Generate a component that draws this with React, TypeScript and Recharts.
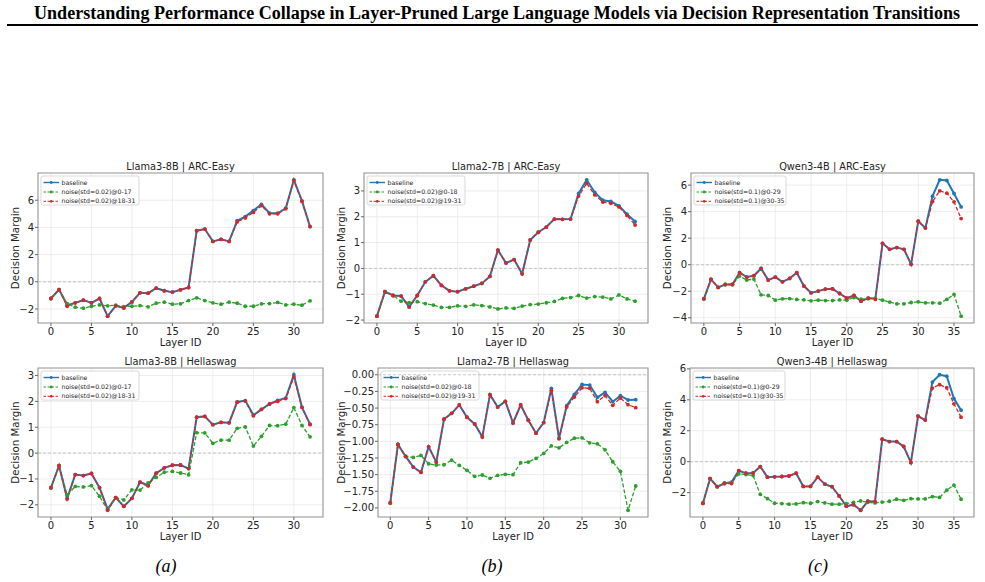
import React from 'react';
import {
  LineChart,
  Line,
  XAxis,
  YAxis,
  CartesianGrid,
  ReferenceLine,
  ReferenceArea,
  Customized,
} from 'recharts';

// ---------- categories ----------
const layers32 = [0, 1, 2, 3, 4, 5, 6, 7, 8, 9, 10, 11, 12, 13, 14, 15, 16, 17, 18, 19, 20, 21, 22, 23, 24, 25, 26, 27, 28, 29, 30, 31, 32];
const layers36 = [0, 1, 2, 3, 4, 5, 6, 7, 8, 9, 10, 11, 12, 13, 14, 15, 16, 17, 18, 19, 20, 21, 22, 23, 24, 25, 26, 27, 28, 29, 30, 31, 32, 33, 34, 35, 36];

// ---------- tick labels ----------
const xTicks32 = [0, 5, 10, 15, 20, 25, 30];
const xTicks36 = [0, 5, 10, 15, 20, 25, 30, 35];
const yTicksL3Arc = [-2, 0, 2, 4, 6];
const yTicksL2Arc = [-2, -1, 0, 1, 2, 3];
const yTicksQwArc = [-4, -2, 0, 2, 4, 6];
const yTicksL3Hs = [-2, -1, 0, 1, 2, 3];
const yTicksL2Hs = [-2.0, -1.75, -1.5, -1.25, -1.0, -0.75, -0.5, -0.25, 0.0];
const yTicksQwHs = [-2, 0, 2, 4, 6];

// ---------- series: Llama3-8B | ARC-Easy ----------
const l3ArcBase = [-1.23, -0.57, -1.72, -1.55, -1.35, -1.55, -1.23, -2.53, -1.77, -1.92, -1.48, -0.81, -0.84, -0.47, -0.66, -0.76, -0.59, -0.42, 3.76, 3.88, 2.97, 3.12, 2.97, 4.5, 4.8, 5.24, 5.7, 5.04, 5.04, 5.41, 7.5, 5.95, 4.06];
const l3ArcLow = [-1.23, -0.57, -1.6, -1.87, -1.94, -1.8, -1.7, -1.77, -1.72, -1.82, -1.8, -1.75, -1.84, -1.57, -1.5, -1.65, -1.62, -1.38, -1.18, -1.38, -1.55, -1.65, -1.5, -1.57, -1.8, -1.8, -1.62, -1.6, -1.52, -1.7, -1.65, -1.72, -1.4];
const l3ArcHigh = [-1.23, -0.57, -1.8, -1.55, -1.35, -1.55, -1.23, -2.53, -1.77, -1.92, -1.48, -0.81, -0.84, -0.47, -0.66, -0.76, -0.59, -0.42, 3.76, 3.88, 2.97, 3.12, 2.97, 4.4, 4.7, 5.1, 5.6, 5.0, 5.0, 5.38, 7.45, 5.92, 4.06];

// ---------- series: Llama2-7B | ARC-Easy ----------
const l2ArcBase = [-1.85, -0.9, -1.05, -1.07, -1.49, -1.05, -0.52, -0.28, -0.66, -0.87, -0.9, -0.79, -0.69, -0.58, -0.31, 0.71, 0.21, 0.34, -0.21, 1.1, 1.4, 1.6, 1.91, 1.9, 1.91, 2.9, 3.43, 2.94, 2.64, 2.59, 2.42, 2.1, 1.82];
const l2ArcLow = [-1.85, -0.9, -1.05, -1.27, -1.33, -1.29, -1.36, -1.42, -1.51, -1.51, -1.45, -1.47, -1.41, -1.44, -1.49, -1.57, -1.53, -1.55, -1.46, -1.4, -1.38, -1.33, -1.28, -1.16, -1.13, -1.05, -1.15, -1.09, -1.11, -1.18, -1.03, -1.18, -1.27];
const l2ArcHigh = [-1.85, -0.9, -1.05, -1.07, -1.49, -1.05, -0.52, -0.28, -0.66, -0.87, -0.9, -0.79, -0.69, -0.58, -0.31, 0.71, 0.21, 0.34, -0.21, 1.1, 1.4, 1.6, 1.91, 1.9, 1.91, 2.8, 3.29, 2.85, 2.57, 2.52, 2.38, 2.05, 1.68];

// ---------- series: Qwen3-4B | ARC-Easy ----------
const qwArcBase = [-2.57, -1.11, -1.71, -1.49, -1.49, -0.6, -0.93, -0.83, -0.28, -1.16, -0.93, -1.29, -1.03, -0.6, -1.61, -2.12, -1.99, -1.84, -1.82, -2.17, -2.52, -2.32, -2.75, -2.52, -2.55, 1.61, 1.16, 1.29, 1.16, 0.03, 3.28, 2.77, 5.17, 6.4, 6.35, 5.37, 4.36];
const qwArcLow = [-2.57, -1.11, -1.71, -1.49, -1.49, -0.86, -1.16, -1.08, -2.27, -2.32, -2.67, -2.57, -2.55, -2.62, -2.65, -2.72, -2.67, -2.7, -2.7, -2.65, -2.67, -2.47, -2.6, -2.57, -2.52, -2.67, -2.82, -2.95, -2.95, -2.85, -2.8, -2.87, -2.87, -2.9, -2.62, -2.24, -3.88];
const qwArcHigh = [-2.57, -1.11, -1.71, -1.49, -1.49, -0.6, -0.93, -0.83, -0.28, -1.16, -0.93, -1.29, -1.03, -0.6, -1.61, -2.12, -1.99, -1.84, -1.82, -2.17, -2.52, -2.32, -2.75, -2.52, -2.62, 1.61, 1.16, 1.29, 1.16, 0.03, 3.28, 2.77, 4.76, 5.57, 5.39, 4.74, 3.48];

// ---------- series: Llama3-8B | Hellaswag ----------
const l3HsBase = [-1.34, -0.49, -1.75, -0.83, -0.87, -0.79, -1.34, -2.17, -1.72, -2.06, -1.75, -1.12, -1.25, -0.78, -0.57, -0.47, -0.46, -0.6, 1.39, 1.42, 1.1, 1.19, 1.17, 1.98, 2.03, 1.47, 1.69, 1.9, 2.04, 2.13, 3.03, 1.77, 1.12];
const l3HsLow = [-1.34, -0.49, -1.62, -1.29, -1.31, -1.26, -1.67, -2.21, -1.72, -1.81, -1.42, -1.43, -1.15, -0.94, -0.74, -0.71, -0.77, -0.84, 0.79, 0.78, 0.38, 0.5, 0.5, 0.96, 1.01, 0.27, 0.65, 1.07, 1.06, 1.12, 1.76, 1.07, 0.63];
const l3HsHigh = [-1.34, -0.49, -1.78, -0.83, -0.87, -0.79, -1.34, -2.2, -1.72, -2.06, -1.75, -1.12, -1.27, -0.78, -0.57, -0.47, -0.46, -0.6, 1.39, 1.42, 1.1, 1.19, 1.17, 1.97, 2.01, 1.44, 1.69, 1.9, 2.0, 2.11, 2.94, 1.77, 1.1];

// ---------- series: Llama2-7B | Hellaswag ----------
const l2HsBase = [-1.925, -1.047, -1.227, -1.387, -1.466, -1.082, -1.312, -0.668, -0.579, -0.454, -0.638, -0.738, -0.933, -0.299, -0.484, -0.399, -0.723, -0.454, -0.683, -0.878, -0.718, -0.204, -0.953, -0.464, -0.294, -0.145, -0.155, -0.339, -0.264, -0.404, -0.314, -0.379, -0.374];
const l2HsLow = [-1.925, -1.047, -1.227, -1.242, -1.212, -1.337, -1.357, -1.352, -1.282, -1.362, -1.436, -1.526, -1.506, -1.556, -1.511, -1.496, -1.501, -1.322, -1.312, -1.257, -1.182, -1.067, -1.097, -1.017, -0.953, -0.948, -1.022, -1.037, -1.127, -1.307, -1.451, -2.035, -1.671];
const l2HsHigh = [-1.925, -1.047, -1.227, -1.387, -1.466, -1.082, -1.312, -0.668, -0.579, -0.454, -0.638, -0.738, -0.933, -0.299, -0.484, -0.399, -0.723, -0.454, -0.683, -0.878, -0.718, -0.234, -0.963, -0.484, -0.334, -0.195, -0.204, -0.404, -0.314, -0.459, -0.349, -0.449, -0.494];

// ---------- series: Qwen3-4B | Hellaswag ----------
const qwHsBase = [-2.69, -1.09, -1.62, -1.41, -1.32, -0.58, -0.75, -0.73, -0.32, -1.0, -0.98, -0.96, -0.92, -0.75, -1.6, -1.6, -1.0, -1.45, -1.62, -2.22, -2.88, -2.78, -3.14, -2.56, -2.58, 1.45, 1.3, 1.3, 0.98, -0.06, 2.95, 2.69, 5.15, 5.62, 5.53, 4.08, 3.33];
const qwHsLow = [-2.69, -1.09, -1.62, -1.37, -1.37, -0.79, -0.83, -0.9, -2.11, -2.39, -2.69, -2.71, -2.75, -2.73, -2.65, -2.69, -2.58, -2.67, -2.75, -2.75, -2.71, -2.63, -2.54, -2.63, -2.67, -2.61, -2.56, -2.43, -2.5, -2.39, -2.41, -2.41, -2.26, -2.31, -1.84, -1.52, -2.43];
const qwHsHigh = [-2.69, -1.09, -1.62, -1.41, -1.41, -0.58, -0.75, -0.73, -0.32, -1.0, -0.98, -0.96, -0.92, -0.75, -1.6, -1.6, -1.0, -1.45, -1.62, -2.22, -2.88, -2.78, -3.14, -2.56, -2.58, 1.45, 1.3, 1.3, 0.98, -0.06, 2.95, 2.69, 4.76, 4.98, 4.78, 3.74, 2.88];

// ---------- legend labels ----------
const legendL3 = ['baseline', 'noise(std=0.02)@0-17', 'noise(std=0.02)@18-31'];
const legendL2 = ['baseline', 'noise(std=0.02)@0-18', 'noise(std=0.02)@19-31'];
const legendQw = ['baseline', 'noise(std=0.1)@0-29', 'noise(std=0.1)@30-35'];

const SANS = '"DejaVu Sans", Verdana, sans-serif';
const SERIF = '"Liberation Serif", "Times New Roman", Times, serif';
const BLUE = '#1f77b4';
const GREEN = '#2ca02c';
const RED = '#d62728';

const fmtInt = (v: number) => (v < 0 ? '\u2212' + Math.abs(v) : String(v));
const fmt2 = (v: number) => (v < 0 ? '\u2212' + Math.abs(v).toFixed(2) : v.toFixed(2));

type Pos = { chartLeft: number; plotLeft: number; plotTop: number; plotW: number; plotH: number; legendW: number; yLabelX: number };

function SubPlot(props: {
  title: string;
  layers: number[];
  base: number[];
  low: number[];
  high: number[];
  legend: string[];
  xTicks: number[];
  yTicks: number[];
  yFmt: (v: number) => string;
  pos: Pos;
}) {
  const { title, layers, base, low, high, legend, xTicks, yTicks, yFmt, pos } = props;
  const data = layers.map((l, i) => ({ layer: l, base: base[i], low: low[i], high: high[i] }));
  const all = [...base, ...low, ...high, 0];
  const ymin = Math.min(...all);
  const ymax = Math.max(...all);
  const my = (ymax - ymin) * 0.05;
  const xmin = layers[0];
  const xmax = layers[layers.length - 1];
  const mx = (xmax - xmin) * 0.05;
  const xDom: [number, number] = [xmin - mx, xmax + mx];
  const yDom: [number, number] = [ymin - my, ymax + my];

  const mt = 22;
  const mr = 8;
  const xh = 32;
  const yW = pos.plotLeft - pos.chartLeft;
  const W = yW + pos.plotW + mr;
  const H = mt + pos.plotH + xh;
  const yLabelX = pos.yLabelX;

  const Decor = () => {
    const cx = yW + pos.plotW / 2;
    const cy = mt + pos.plotH / 2;
    const rows = [6.5, 16, 25.3];
    const colors = [BLUE, GREEN, RED];
    return (
      <g>
        <text x={cx} y={mt - 3} textAnchor="middle" fontFamily={SANS} fontSize={9.8} fill="#222">
          {title}
        </text>
        <text x={cx} y={mt + pos.plotH + 22.5} textAnchor="middle" fontFamily={SANS} fontSize={10} fill="#222">
          Layer ID
        </text>
        <text
          x={yLabelX + 3.6}
          y={cy}
          textAnchor="middle"
          fontFamily={SANS}
          fontSize={10.3}
          fill="#222"
          transform={`rotate(-90 ${yLabelX + 3.6} ${cy})`}
        >
          Decision Margin
        </text>
        <g transform={`translate(${yW + 3},${mt + 3})`}>
          <rect x={0} y={0} width={pos.legendW} height={29} rx={2} fill="#fff" fillOpacity={0.85} stroke="#cfcfcf" strokeWidth={0.8} />
          {legend.map((lab, i) => (
            <g key={lab}>
              <line
                x1={2.5}
                x2={18}
                y1={rows[i]}
                y2={rows[i]}
                stroke={colors[i]}
                strokeWidth={i === 0 ? 1.4 : 1}
                strokeDasharray={i === 0 ? undefined : '2.5 1.5'}
              />
              <circle cx={10.2} cy={rows[i]} r={1.4} fill={colors[i]} />
              <text x={20.5} y={rows[i] + 2.1} fontFamily={SANS} fontSize={6.2} fill="#222">
                {lab}
              </text>
            </g>
          ))}
        </g>
      </g>
    );
  };

  return (
    <div style={{ position: 'absolute', left: pos.chartLeft, top: pos.plotTop - mt }}>
      <LineChart width={W} height={H} data={data} margin={{ top: mt, right: mr, left: 0, bottom: 0 }}>
        <CartesianGrid stroke="#e8e8e8" strokeWidth={0.8} />
        <XAxis
          dataKey="layer"
          type="number"
          domain={xDom}
          ticks={xTicks}
          height={xh}
          axisLine={false}
          tickSize={3}
          tickMargin={1.5}
          stroke="#666"
          tick={{ fontSize: 10, fill: '#222', fontFamily: SANS }}
          allowDataOverflow
        />
        <YAxis
          type="number"
          domain={yDom}
          ticks={yTicks}
          width={yW}
          axisLine={false}
          tickSize={3}
          tickMargin={1}
          stroke="#666"
          tickFormatter={yFmt}
          tick={{ fontSize: 10, fill: '#222', fontFamily: SANS }}
          allowDataOverflow
          interval={0}
        />
        <ReferenceLine y={0} stroke="#b0b0b0" strokeDasharray="3 2" strokeWidth={0.7} />
        <ReferenceArea x1={xDom[0]} x2={xDom[1]} y1={yDom[0]} y2={yDom[1]} fill="none" stroke="#9a9a9a" strokeWidth={1.1} ifOverflow="visible" />
        <Line dataKey="base" stroke={BLUE} strokeWidth={2} dot={{ r: 1.9, fill: BLUE, stroke: BLUE, strokeWidth: 0 }} isAnimationActive={false} />
        <Line dataKey="low" stroke={GREEN} strokeWidth={1.3} strokeDasharray="4 2" dot={{ r: 1.9, fill: GREEN, stroke: GREEN, strokeWidth: 0 }} isAnimationActive={false} />
        <Line dataKey="high" stroke={RED} strokeWidth={1.3} strokeDasharray="4 2" dot={{ r: 1.9, fill: RED, stroke: RED, strokeWidth: 0 }} isAnimationActive={false} />
        <Customized component={Decor} />
      </LineChart>
    </div>
  );
}

const posTop = (chartLeft: number, plotLeft: number, plotW: number, legendW: number, yLabelX: number): Pos => ({ chartLeft, plotLeft, plotTop: 173, plotW, plotH: 150, legendW, yLabelX });
const posBot = (chartLeft: number, plotLeft: number, plotW: number, legendW: number, yLabelX: number): Pos => ({ chartLeft, plotLeft, plotTop: 368, plotW, plotH: 149, legendW, yLabelX });

export default function App() {
  return (
    <div style={{ position: 'absolute', left: 0, top: 0, width: 985, height: 582, background: '#fff', overflow: 'hidden' }}>
      <svg width={985} height={40} style={{ position: 'absolute', left: 0, top: 0 }}>
        <text x={497} y={19} textAnchor="middle" fontFamily={SERIF} fontWeight="bold" fontSize={18} textLength={926} lengthAdjust="spacingAndGlyphs" fill="#000">
          Understanding Performance Collapse in Layer-Pruned Large Language Models via Decision Representation Transitions
        </text>
        <line x1={7} x2={978} y1={25} y2={25} stroke="#000" strokeWidth={1.8} />
      </svg>

      <SubPlot title="Llama3-8B | ARC-Easy" layers={layers32} base={l3ArcBase} low={l3ArcLow} high={l3ArcHigh} legend={legendL3} xTicks={xTicks32} yTicks={yTicksL3Arc} yFmt={fmtInt} pos={posTop(0, 38, 285, 98, 15)} />
      <SubPlot title="Llama2-7B | ARC-Easy" layers={layers32} base={l2ArcBase} low={l2ArcLow} high={l2ArcHigh} legend={legendL2} xTicks={xTicks32} yTicks={yTicksL2Arc} yFmt={fmtInt} pos={posTop(326, 364, 284, 98, 15)} />
      <SubPlot title="Qwen3-4B | ARC-Easy" layers={layers36} base={qwArcBase} low={qwArcLow} high={qwArcHigh} legend={legendQw} xTicks={xTicks36} yTicks={yTicksQwArc} yFmt={fmtInt} pos={posTop(654, 691, 283, 92, 13)} />

      <SubPlot title="Llama3-8B | Hellaswag" layers={layers32} base={l3HsBase} low={l3HsLow} high={l3HsHigh} legend={legendL3} xTicks={xTicks32} yTicks={yTicksL3Hs} yFmt={fmtInt} pos={posBot(0, 38, 285, 98, 15)} />
      <SubPlot title="Llama2-7B | Hellaswag" layers={layers32} base={l2HsBase} low={l2HsLow} high={l2HsHigh} legend={legendL2} xTicks={xTicks32} yTicks={yTicksL2Hs} yFmt={fmt2} pos={posBot(326, 378, 270, 98, 15)} />
      <SubPlot title="Qwen3-4B | Hellaswag" layers={layers36} base={qwHsBase} low={qwHsLow} high={qwHsHigh} legend={legendQw} xTicks={xTicks36} yTicks={yTicksQwHs} yFmt={fmtInt} pos={posBot(654, 690, 284, 92, 13)} />

      {[
        { t: '(a)', x: 166 },
        { t: '(b)', x: 492 },
        { t: '(c)', x: 818 },
      ].map((c) => (
        <div
          key={c.t}
          style={{ position: 'absolute', left: c.x - 30, width: 60, top: 555, textAlign: 'center', fontFamily: SERIF, fontStyle: 'italic', fontSize: 18, lineHeight: '22px', color: '#000' }}
        >
          {c.t}
        </div>
      ))}
    </div>
  );
}
